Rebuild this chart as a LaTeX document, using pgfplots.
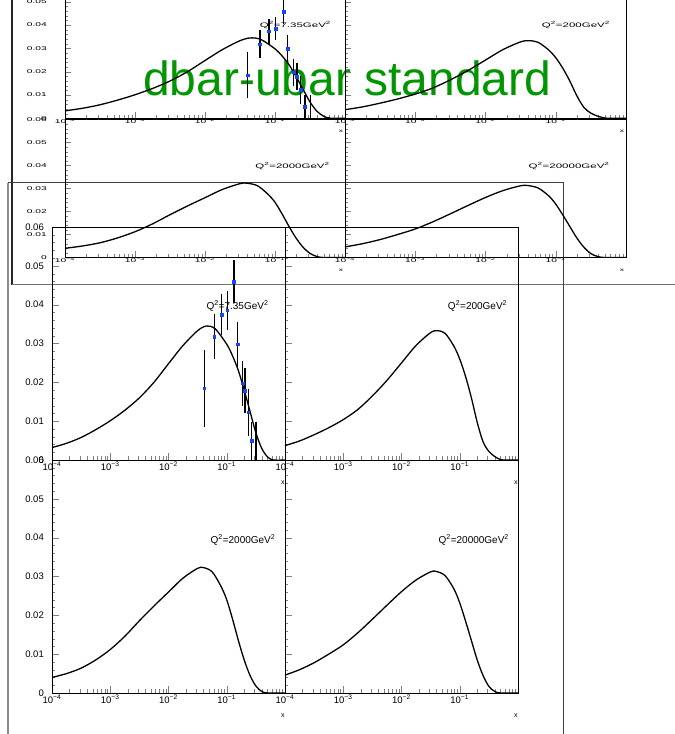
\documentclass[border=0pt]{standalone}
\usepackage{pgfplots}
\pgfplotsset{compat=1.18}
\usepackage{pgfplotstable}
\usepackage{fontspec}
\setmainfont{Liberation Sans}

\definecolor{titlegreen}{RGB}{0,150,0}
\definecolor{ptblue}{RGB}{20,70,255}

% curves
\pgfplotstableread{
x y
1e-4 0.0032
1.778e-4 0.0043
3.162e-4 0.0058
5.623e-4 0.0078
1e-3 0.0101
1.778e-3 0.0128
3.162e-3 0.0160
5.623e-3 0.0200
0.01 0.0248
0.01778 0.0295
0.03162 0.0333
0.04467 0.0345
0.06310 0.0338
0.1 0.0298
0.1259 0.0268
0.1585 0.0230
0.1995 0.0180
0.2512 0.0125
0.3162 0.0070
0.3981 0.0030
0.5012 0.0008
0.6310 0.0
1 0.0
}\tblA
\pgfplotstableread{
x y
1e-4 0.0037
1.778e-4 0.0049
3.162e-4 0.0065
5.623e-4 0.0083
1e-3 0.0104
1.778e-3 0.0130
3.162e-3 0.0165
5.623e-3 0.0205
0.01 0.0250
0.01778 0.0295
0.03162 0.0328
0.04169 0.0333
0.05623 0.0326
0.07943 0.0293
0.1 0.0260
0.1259 0.0215
0.1585 0.0160
0.1995 0.0097
0.2512 0.0047
0.3162 0.0022
0.3981 0.0009
0.5012 0.0001
0.6310 0.0
1 0.0
}\tblB
\pgfplotstableread{
x y
1e-4 0.0040
1.778e-4 0.0050
3.162e-4 0.0064
5.623e-4 0.0085
1e-3 0.0112
1.778e-3 0.0146
3.162e-3 0.0186
5.623e-3 0.0224
0.01 0.0260
0.01778 0.0296
0.03162 0.0321
0.03981 0.0323
0.05623 0.0312
0.07943 0.0275
0.1 0.0240
0.1259 0.0190
0.1585 0.0135
0.1995 0.0085
0.2512 0.0045
0.3162 0.0018
0.3981 0.0004
0.5012 0.0
1 0.0
}\tblC
\pgfplotstableread{
x y
1e-4 0.0046
1.778e-4 0.0060
3.162e-4 0.0078
5.623e-4 0.0100
1e-3 0.0124
1.778e-3 0.0155
3.162e-3 0.0190
5.623e-3 0.0226
0.01 0.0261
0.01778 0.0291
0.03162 0.0312
0.03981 0.0313
0.05623 0.0302
0.07943 0.0268
0.1 0.0232
0.1259 0.0185
0.1585 0.0135
0.1995 0.0085
0.2512 0.0045
0.3162 0.0017
0.3981 0.0004
0.5012 0.0
1 0.0
}\tblD
% measured points at Q2=7.35
\pgfplotstableread{
x y e
0.041 0.0185 0.0099
0.061 0.0318 0.0059
0.082 0.0374 0.0053
0.102 0.0386 0.0050
0.133 0.0459 0.0055
0.152 0.0298 0.0058
0.185 0.0198 0.0058
0.206 0.0178 0.0058
0.234 0.0123 0.0060
0.268 0.0049 0.0050
0.318 -0.0040 0.0139
}\tblPts

\newcommand{\dec}[1]{10\textsuperscript{−#1}}
\newcommand{\qq}[1]{Q\textsuperscript{2}=#1GeV\textsuperscript{2}}

\tikzset{
  flab/.style={font=\fontsize{10}{12}\selectfont, inner sep=0pt},
  blab/.style={font=\fontsize{10}{12}\selectfont, inner sep=0pt, xscale=1.15, yscale=0.65},
}

\pgfplotsset{
  panelbase/.style={
    scale only axis, anchor=south west,
    xmin=1e-4, xmax=1, ymin=0, ymax=0.06,
    tick pos=left, tick align=inside,
    scaled y ticks=false,
    xtick={1e-4,1e-3,1e-2,1e-1},
    xticklabels={\dec{4},\dec{3},\dec{2},\dec{1}},
    minor xtick={2e-4,3e-4,4e-4,5e-4,6e-4,7e-4,8e-4,9e-4,
                 2e-3,3e-3,4e-3,5e-3,6e-3,7e-3,8e-3,9e-3,
                 2e-2,3e-2,4e-2,5e-2,6e-2,7e-2,8e-2,9e-2,
                 0.2,0.3,0.4,0.5,0.6,0.7,0.8,0.9},
    ytick={0,0.01,0.02,0.03,0.04,0.05,0.06},
    yticklabels={0,0.01,0.02,0.03,0.04,0.05,0.06},
    minor ytick={0.002,0.004,0.006,0.008,0.012,0.014,0.016,0.018,
                 0.022,0.024,0.026,0.028,0.032,0.034,0.036,0.038,
                 0.042,0.044,0.046,0.048,0.052,0.054,0.056,0.058},
    axis line style={line width=0.8pt},
    xlabel={x},
  },
  frontpanel/.style={panelbase, width=233pt, height=233pt,
    major tick length=7pt, minor tick length=3.5pt,
    tick label style={font=\fontsize{9.5}{11}\selectfont, inner sep=0pt},
    xticklabel style={yshift=-2pt}, yticklabel style={xshift=-8pt},
    xlabel style={at={(axis description cs:0.991,0)}, anchor=center,
      yshift=-23pt, font=\fontsize{7}{8}\selectfont, inner sep=0pt},
  },
  backpanel/.style={panelbase, width=280pt, height=138.5pt,
    major tick length=6pt, minor tick length=3pt,
    tick label style={font=\fontsize{8.5}{10}\selectfont, inner sep=0pt,
      xscale=1.2, yscale=0.65},
    xticklabel style={yshift=-1pt}, yticklabel style={xshift=-15pt},
    xlabel style={at={(axis description cs:0.986,0)}, anchor=center,
      yshift=-13pt, font=\fontsize{7}{8}\selectfont, inner sep=0pt,
      xscale=1.2, yscale=0.65},
  },
  pdfcurve/.style={black, line width=1.3pt, smooth, tension=0.5, no marks},
  measpts/.style={only marks, mark=square*, mark size=1.4pt, ptblue,
    error bars/.cd, y dir=both, y explicit,
    error bar style={black, line width=1.1pt}, error mark=none},
}

\begin{document}
\begin{tikzpicture}
\path[use as bounding box, fill=white] (0pt,0pt) rectangle (675pt,734pt);
\clip (0pt,0pt) rectangle (675pt,734pt);

\node[anchor=base west, text=titlegreen, font=\fontsize{48}{50}\selectfont, inner sep=0pt]
  at (143pt,638pt) {dbar-ubar standard};

% window frames
\draw[black!85, line width=2pt] (12pt,734pt) -- (12pt,449pt);
\draw[black!55, line width=1pt] (12pt,449pt) -- (675pt,449pt);
\draw[black!45, line width=2.2pt] (8pt,551pt) -- (8pt,0pt);
\draw[black!75, line width=1pt] (8pt,551pt) -- (563pt,551pt) -- (563pt,0pt);

% back window
\begin{axis}[xmode=log, backpanel, at={(65pt,615.7pt)}, height=139.8pt]
\addplot[pdfcurve] table {\tblA};
\addplot[measpts] table[y error=e] {\tblPts};
\node[blab] at (axis cs:0.196,0.040) {\qq{7.35}};
\end{axis}
\begin{axis}[xmode=log, backpanel, at={(345pt,615.7pt)}, height=139.8pt, width=281pt, yticklabels={}]
\addplot[pdfcurve] table {\tblB};
\node[blab] at (axis cs:0.194,0.040) {\qq{200}};
\end{axis}
\begin{axis}[xmode=log, backpanel, at={(65pt,476.5pt)}, height=138pt]
\addplot[pdfcurve] table {\tblC};
\node[blab] at (axis cs:0.178,0.0398) {\qq{2000}};
\end{axis}
\begin{axis}[xmode=log, backpanel, at={(345pt,476.5pt)}, height=138pt, width=281pt, yticklabels={}]
\addplot[pdfcurve] table {\tblD};
\node[blab] at (axis cs:0.155,0.0398) {\qq{20000}};
\end{axis}

% front window
\begin{axis}[xmode=log, frontpanel, at={(52pt,274pt)}]
\addplot[pdfcurve] table {\tblA};
\addplot[measpts] table[y error=e] {\tblPts};
\node[flab] at (axis cs:0.153,0.0397) {\qq{7.35}};
\end{axis}
\begin{axis}[xmode=log, frontpanel, at={(285pt,274pt)}, yticklabels={}]
\addplot[pdfcurve] table {\tblB};
\node[flab] at (axis cs:0.202,0.0397) {\qq{200}};
\end{axis}
\begin{axis}[xmode=log, frontpanel, at={(52pt,41pt)}]
\addplot[pdfcurve] table {\tblC};
\node[flab] at (axis cs:0.19,0.0394) {\qq{2000}};
\end{axis}
\begin{axis}[xmode=log, frontpanel, at={(285pt,41pt)}, yticklabels={}]
\addplot[pdfcurve] table {\tblD};
\node[flab] at (axis cs:0.174,0.0394) {\qq{20000}};
\end{axis}
\end{tikzpicture}
\end{document}
